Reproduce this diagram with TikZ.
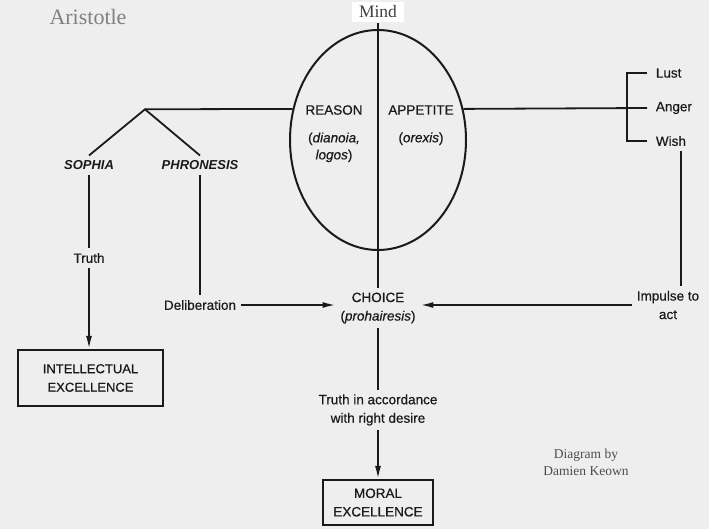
\documentclass[tikz,border=0pt]{standalone}
\usepackage{fontspec}
\setmainfont{Liberation Sans}[UprightFeatures={FakeBold=0.5}, ItalicFeatures={FakeBold=0.5}]
\newfontfamily\notefont{Liberation Serif}
\usepackage{xcolor}
\usepackage{tikz}
\usetikzlibrary{arrows.meta,positioning,shapes.geometric}
\definecolor{paper}{HTML}{EEEEEE}
\definecolor{ink}{HTML}{1A1A1A}

\begin{document}
\begin{tikzpicture}[x=1pt, y=-1pt, node distance=8pt, line width=1.8pt, draw=ink,
  every node/.style={font=\fontsize{13.5}{18.5}\selectfont, inner sep=4pt, align=center, text=ink},
  box/.style={draw=ink, line width=2.1pt},
  greek/.style={font=\fontsize{13}{18.5}\selectfont\bfseries\itshape},
  note/.style={font=\notefont\fontsize{13.5}{17}\selectfont, text=black!70},
  arr/.style={-{Latex[length=13pt,width=6pt]}}]
\fill[paper] (0,0) rectangle (709,529);
\useasboundingbox (0,0) rectangle (709,529);
% the mind
\node (ell) [draw=ink, ellipse, line width=2pt, minimum width=176, minimum height=220, inner sep=0pt] at (378,140) {};
\node (mind) [fill=white, minimum width=52, font=\notefont\fontsize{17.5}{17.5}\selectfont, text=black!75] at (378,12) {Mind};
\node (reas) at (334,110) {REASON};
\node (dian) [below=of reas, font=\fontsize{13.5}{17}\selectfont] {(\textit{dianoia,}\\\textit{logos})};
\node (app) at (421,110) {APPETITE};
\node (orex) [below=of app] {(\textit{orexis})};
% reason side
\coordinate (br) at (145,109.3);
\node (soph) [greek] at (89,165) {SOPHIA};
\node (phr) [greek] at (200,165) {PHRONESIS};
\node (truth) at (89,258) {Truth};
\node (delib) at (200,305) {Deliberation};
\node (intel) [box, font=\fontsize{13}{18.5}\selectfont, minimum width=145, minimum height=56] at (90.5,378) {INTELLECTUAL\\EXCELLENCE};
% appetite side
\node (lust) [anchor=west] at (651,73) {Lust};
\node (anger) [anchor=west] at (651,108) {Anger};
\node (wish) [anchor=west] at (651,141) {Wish};
\node (imp) at (668,305) {Impulse to\\act};
% choice
\node (choice) at (378,308) {CHOICE\\(\textit{prohairesis})};
\node (trd) at (378,410) {Truth in accordance\\with right desire};
\node (moral) [box, minimum width=110, minimum height=45] at (378,502.5) {MORAL\\EXCELLENCE};
% notes
\node (arist) [font=\notefont\fontsize{22}{22}\selectfont, text=black!50] at (88,17) {Aristotle};
\node (keown) [note] at (586,462) {Diagram by\\Damien Keown};

\draw (mind.south) -- (choice.north);
\draw (soph.north) -- (br) -- (phr.north);
\draw (br) -- (ell.160);
\draw (ell.20) -- ([xshift=-4pt]anger.west);
\draw ([xshift=-4pt]lust.west) -| ([xshift=-24pt]wish.west) -- ([xshift=-4pt]wish.west);
\draw (soph.south) -- (truth.north);
\draw[arr] (truth.south) -- (truth.south |- intel.north);
\draw (phr.south) -- (delib.north);
\draw[arr] (delib.east) -- (delib.east -| choice.west);
\draw ([xshift=10pt]wish.south) -- ([xshift=10pt]wish.south |- imp.north);
\draw[arr] (imp.west) -- (imp.west -| choice.east);
\draw (choice.south) -- (trd.north);
\draw[arr] (trd.south) -- (moral.north);
\end{tikzpicture}
\end{document}
